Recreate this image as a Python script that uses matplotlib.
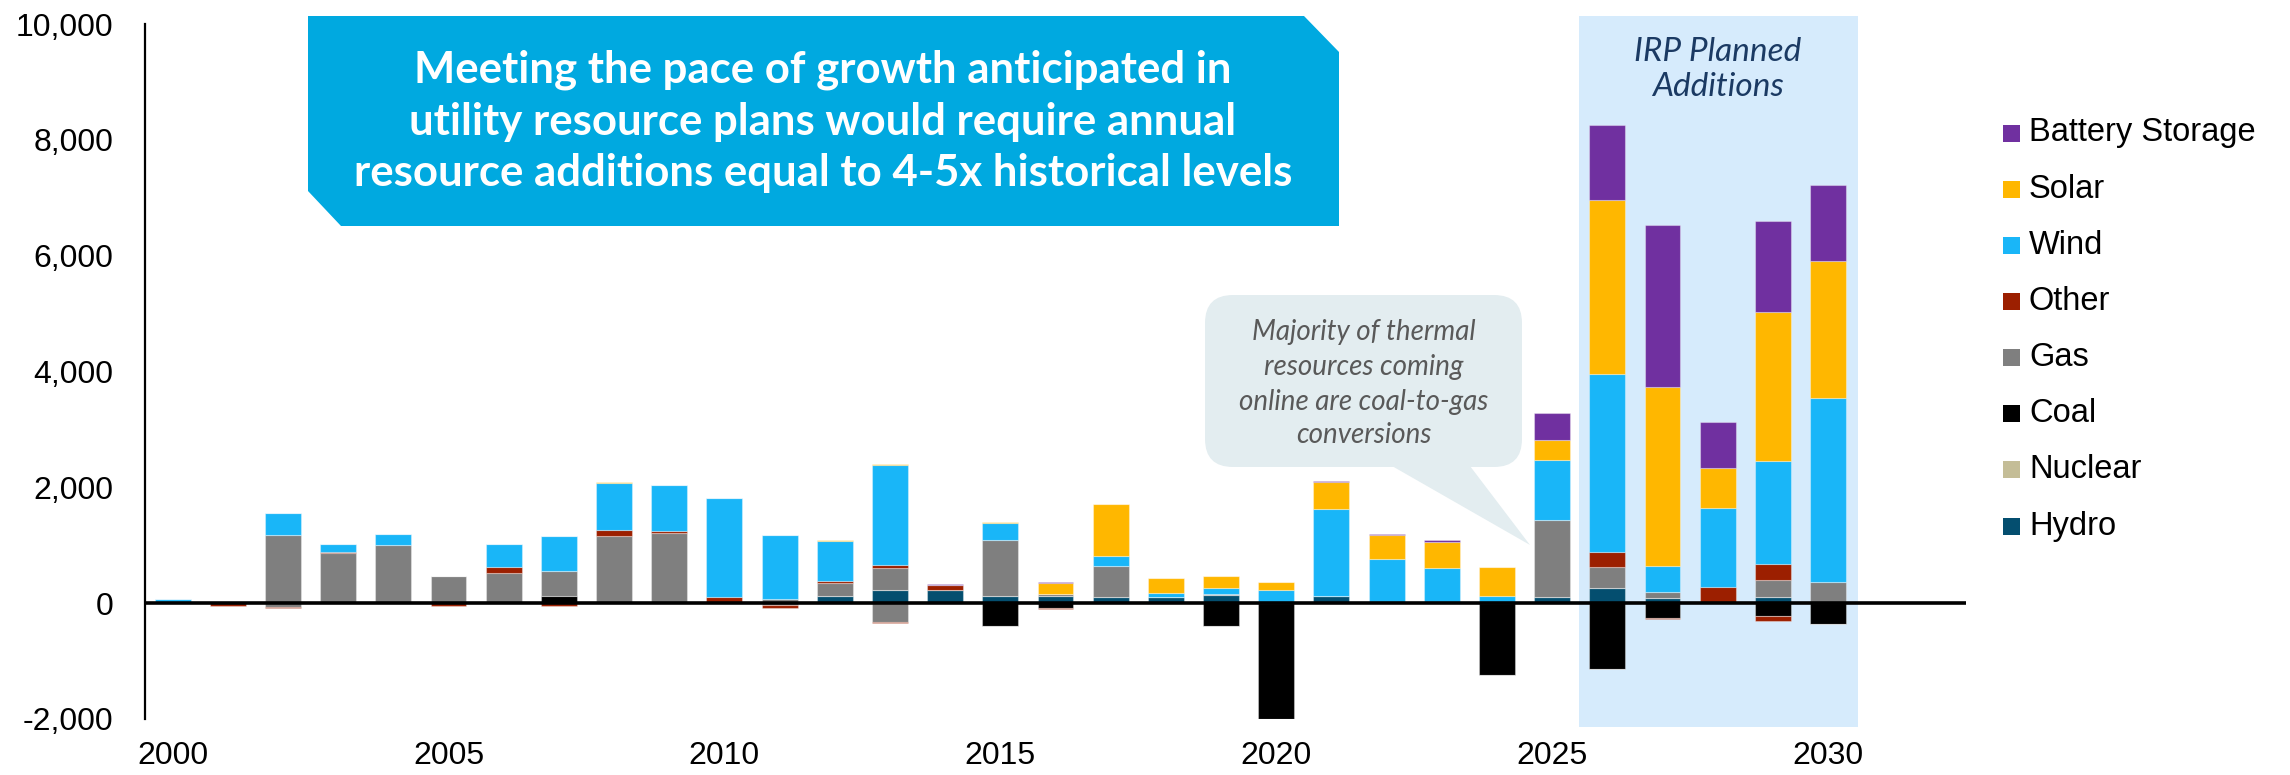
import matplotlib.pyplot as plt
import numpy as np
from matplotlib.patches import Polygon, Rectangle, FancyBboxPatch
from matplotlib.ticker import FuncFormatter
import matplotlib.transforms as mtransforms

years = list(range(2000, 2031))

# additions (MW)
hydro_add   = [0, 20, 0, 0, 0, 0, 0, 0, 0, 0, 0, 0, 132, 230, 230, 132, 132, 115, 115, 138,
               0, 132, 0, 0, 0, 98, 259, 81, 0, 104, 0]
nuclear_add = [0, 0, 0, 0, 0, 0, 0, 0, 0, 0, 0, 0, 0, 0, 0, 0, 0, 0, 0, 0,
               0, 0, 0, 0, 0, 0, 0, 0, 0, 0, 0]
coal_add    = [0, 0, 0, 0, 0, 0, 0, 132, 0, 0, 0, 0, 0, 0, 0, 0, 0, 0, 0, 0,
               0, 0, 0, 0, 0, 0, 0, 0, 0, 0, 0]
gas_add     = [0, 0, 1177, 860, 1005, 476, 528, 417, 1154, 1212, 0, 69, 210, 370, 0, 955, 30, 520, 0, 12,
               0, 0, 0, 0, 0, 1340, 370, 110, 0, 302, 363]
other_add   = [0, 0, 0, 15, 0, 0, 92, 0, 116, 30, 98, 0, 47, 52, 87, 0, 0, 0, 0, 0,
               0, 0, 0, 25, 0, 0, 261, 0, 273, 273, 0]
wind_add    = [78, 0, 372, 140, 195, 0, 395, 603, 800, 800, 1717, 1108, 685, 1740, 0, 295, 0, 174, 52, 115,
               219, 1490, 760, 590, 130, 1039, 3060, 459, 1374, 1769, 3181]
solar_add   = [0, 0, 0, 0, 0, 0, 0, 0, 15, 0, 0, 0, 10, 15, 0, 12, 185, 895, 265, 207,
               150, 464, 423, 440, 502, 348, 3004, 3079, 685, 2586, 2366]
battery_add = [0, 0, 0, 0, 0, 0, 0, 0, 0, 0, 0, 0, 0, 0, 10, 10, 10, 15, 0, 0,
               0, 15, 10, 29, 0, 464, 1305, 2796, 788, 1566, 1305]

# retirements (MW)
coal_ret  = [0, 0, 0, 0, 0, 0, 0, 0, 0, 0, 0, 0, 0, 0, 0, -389, -92, 0, 0, -389,
             -2000, 0, 0, 0, -1235, 0, -1131, -259, 0, -219, -363]
gas_ret   = [0, 0, -70, 0, 0, 0, 0, 0, 0, 0, 0, -40, 0, -322, 0, 0, 0, 0, 0, 0,
             0, 0, 0, 0, 0, 0, 0, 0, 0, 0, 0]
other_ret = [0, -45, -20, 0, 0, -45, 0, -45, 0, 0, 0, -35, 0, -29, 0, 0, -17, 0, 0, 0,
             0, 0, 0, 0, 0, 0, -10, -10, 0, -92, 0]

names = ['Hydro', 'Nuclear', 'Coal', 'Gas', 'Other', 'Wind', 'Solar', 'Battery Storage']
colors = ['#044E6F', '#C4BD97', '#000000', '#7F7F7F', '#9C1F00', '#19B6F8', '#FFB700', '#7030A0']
adds = [hydro_add, nuclear_add, coal_add, gas_add, other_add, wind_add, solar_add, battery_add]
rets = {'Coal': coal_ret, 'Gas': gas_ret, 'Other': other_ret}

W, H = 2290, 775
fig = plt.figure(figsize=(W / 100, H / 100), dpi=100)
ax = fig.add_axes([145 / W, 1 - 719 / H, (1966 - 145) / W, 695 / H])

x = np.array(years)
pos = np.zeros(len(years))
neg = np.zeros(len(years))
for name, col, vals in zip(names, colors, adds):
    v = np.array(vals, dtype=float)
    ax.bar(x, v, 0.65, bottom=pos, color=col, edgecolor=(1, 1, 1, 0.35), linewidth=0.8, zorder=2)
    pos += v
    if name in rets:
        r = np.array(rets[name], dtype=float)
        ax.bar(x, r, 0.65, bottom=neg, color=col, edgecolor=(1, 1, 1, 0.35), linewidth=0.8, zorder=2)
        neg += r

ax.set_xlim(1999.5, 2032.5)
ax.set_ylim(-2000, 10000)
ax.axhline(0, color='black', lw=2.6, zorder=4)

# IRP shaded band
trans = mtransforms.blended_transform_factory(ax.transData, ax.transAxes)
ax.add_patch(Rectangle((2025.49, -0.0115), 5.05, 1.023, transform=trans,
                       facecolor='#D6EBFC', edgecolor='none', zorder=0, clip_on=False))
ax.text(2028.0, 0.934, 'IRP Planned\nAdditions', transform=trans, ha='center', va='center',
        fontsize=24, style='italic', family='Lato', color='#1B3A63', linespacing=1.2)

for s in ['top', 'right', 'bottom']:
    ax.spines[s].set_visible(False)
ax.spines['left'].set_linewidth(1.6)

ax.set_xticks([2000, 2005, 2010, 2015, 2020, 2025, 2030])
ax.set_yticks(np.arange(-2000, 10001, 2000))
ax.yaxis.set_major_formatter(FuncFormatter(lambda v, p: f'{v:,.0f}'))
ax.tick_params(axis='both', length=0, labelsize=23)
ax.tick_params(axis='x', pad=16)
ax.tick_params(axis='y', pad=23)
for lab in ax.get_xticklabels() + ax.get_yticklabels():
    lab.set_family('Liberation Sans')

# overlay in pixel coordinates for callouts and legend
ov = fig.add_axes([0, 0, 1, 1], zorder=3)
ov.set_xlim(0, W)
ov.set_ylim(H, 0)
ov.axis('off')

box = [(308, 16), (1304, 16), (1339, 52), (1339, 226), (341, 226), (308, 191)]
ov.add_patch(Polygon(box, closed=True, facecolor='#00A9E0', edgecolor='none'))
title_lines = ['Meeting the pace of growth anticipated in',
               'utility resource plans would require annual',
               'resource additions equal to 4-5x historical levels']
for ty, line in zip([70, 122, 173], title_lines):
    ov.text(823, ty, line, ha='center', va='center', fontsize=31.5, fontweight='bold',
            family='Lato', color='white')

# note bubble
ov.add_patch(FancyBboxPatch((1205, 295), 317, 172, boxstyle='round,pad=0,rounding_size=28',
                            facecolor='#E3EDF0', edgecolor='none'))
ov.add_patch(Polygon([(1392, 466), (1470, 466), (1530, 545)], closed=True,
                     facecolor='#E3EDF0', edgecolor='none'))
note_lines = ['Majority of thermal', 'resources coming', 'online are coal-to-gas', 'conversions']
for ny, line in zip([332, 367, 402, 435], note_lines):
    ov.text(1364, ny, line, ha='center', va='center', fontsize=20, style='italic',
            family='Lato', color='#595959')

# legend
leg_y = [133, 189, 245, 301, 357, 413, 469, 526]
for ly, name, col in zip(leg_y, names[::-1], colors[::-1]):
    ov.add_patch(Rectangle((2003, ly - 8.5), 17, 17, facecolor=col, edgecolor='none'))
    ov.text(2029, ly, name, ha='left', va='center', fontsize=23.5, family='Liberation Sans')

fig.savefig('out.png', dpi=100)
